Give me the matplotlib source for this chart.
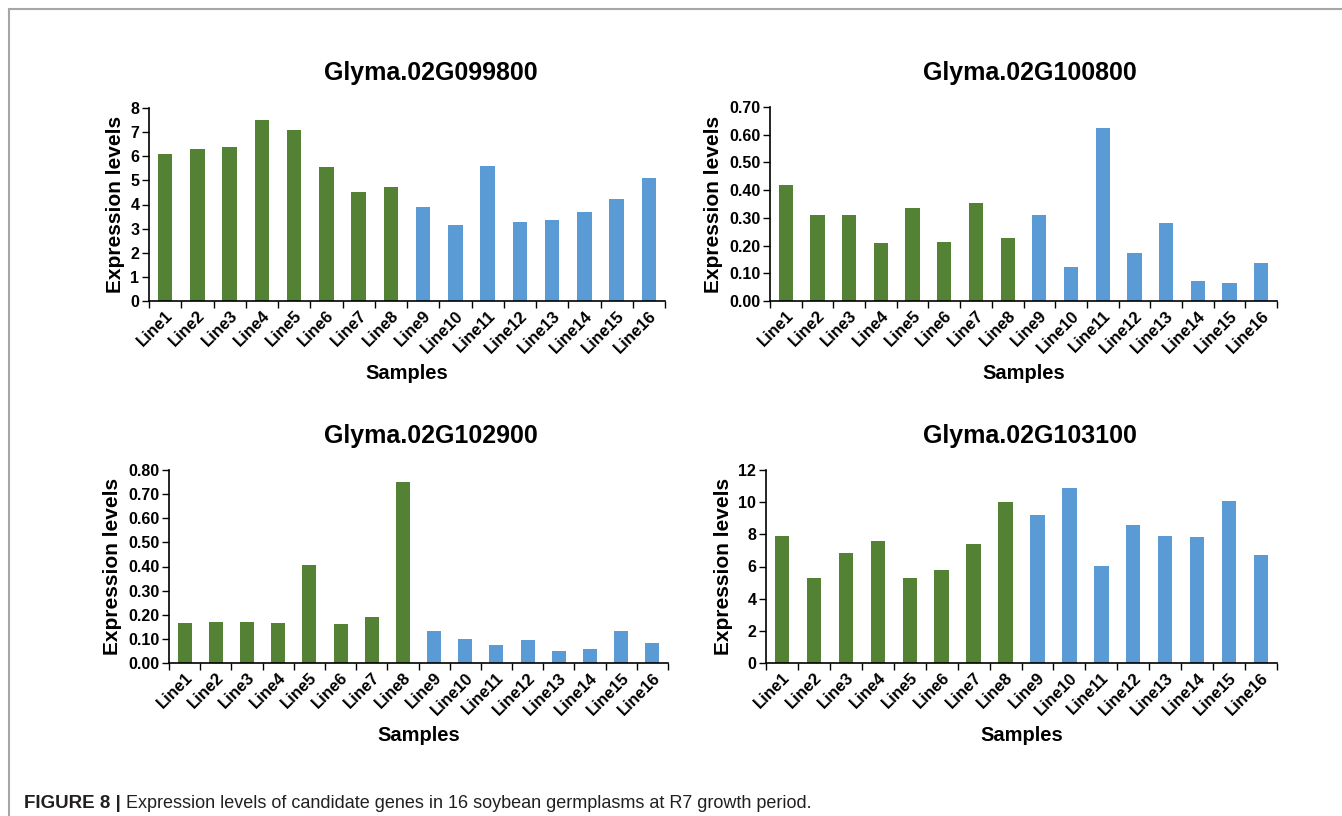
import numpy as np
import matplotlib.pyplot as plt
from matplotlib.lines import Line2D
import matplotlib.transforms as mtransforms

plt.rcParams['font.family'] = ['Liberation Sans', 'DejaVu Sans']

samples = ['Line%d' % i for i in range(1, 17)]

# expression levels per gene, Line1..Line16
g099800 = [6.09, 6.32, 6.38, 7.49, 7.09, 5.56, 4.50, 4.73,
           3.91, 3.14, 5.60, 3.28, 3.35, 3.68, 4.21, 5.08]
g100800 = [0.417, 0.312, 0.312, 0.209, 0.334, 0.214, 0.353, 0.226,
           0.310, 0.124, 0.626, 0.174, 0.282, 0.072, 0.066, 0.136]
g102900 = [0.165, 0.168, 0.172, 0.165, 0.407, 0.161, 0.191, 0.752,
           0.132, 0.098, 0.074, 0.095, 0.048, 0.058, 0.132, 0.081]
g103100 = [7.90, 5.28, 6.85, 7.61, 5.28, 5.77, 7.40, 9.98,
           9.20, 10.85, 6.06, 8.60, 7.90, 7.86, 10.08, 6.72]

genes = ['Glyma.02G099800', 'Glyma.02G100800', 'Glyma.02G102900', 'Glyma.02G103100']
values = [g099800, g100800, g102900, g103100]
yticks = [np.arange(0, 9, 1), np.arange(0, 0.71, 0.1),
          np.arange(0, 0.81, 0.1), np.arange(0, 13, 2)]
yfmt = ['%d', '%.2f', '%.2f', '%d']

green = '#548235'
blue = '#5b9bd5'
colors = [green] * 8 + [blue] * 8

W, H = 1342, 816
fig = plt.figure(figsize=(W / 100, H / 100), dpi=100)

# axes boxes in pixels: left, right, top, bottom
boxes = [(149, 665, 108, 301), (770, 1277, 107, 301),
         (169, 668, 470, 663), (766, 1277, 470, 663)]
title_x = [431, 1030, 431, 1030]
title_y = [73, 73, 436, 436]

for i in range(4):
    l, r, t, b = boxes[i]
    ax = fig.add_axes([l / W, 1 - b / H, (r - l) / W, (b - t) / H])
    x = np.arange(16)
    ax.bar(x, values[i], width=0.45, color=colors, edgecolor='none')
    ax.set_xlim(-0.5, 15.5)
    ax.set_ylim(yticks[i][0], yticks[i][-1])
    ax.set_yticks(yticks[i])
    ax.set_yticklabels([yfmt[i] % v for v in yticks[i]], fontsize=11.5, fontweight='bold')
    ax.set_xticks(np.arange(-0.5, 16, 1))
    ax.set_xticklabels([])
    ax.set_xticks(x, minor=True)
    ax.set_xticklabels(samples, minor=True, rotation=45, ha='right',
                       rotation_mode='anchor', fontsize=12, fontweight='bold')
    offset = mtransforms.ScaledTranslation(9 / 100, 0, fig.dpi_scale_trans)
    for lab in ax.xaxis.get_minorticklabels():
        lab.set_transform(lab.get_transform() + offset)
    ax.tick_params(axis='x', which='major', direction='out', length=5, width=1)
    ax.tick_params(axis='x', which='minor', length=0, pad=5)
    ax.tick_params(axis='y', direction='out', length=5, width=1, pad=2)
    for s in ['top', 'right']:
        ax.spines[s].set_visible(False)
    for s in ['left', 'bottom']:
        ax.spines[s].set_linewidth(1.2)
    ax.set_ylabel('Expression levels', fontsize=15, fontweight='bold', labelpad=4)
    ax.set_xlabel('Samples', fontsize=14.5, fontweight='bold', labelpad=6)
    fig.text(title_x[i] / W, 1 - title_y[i] / H, genes[i], fontsize=18,
             fontweight='bold', ha='center', va='center')

# page frame
fig.add_artist(Line2D([9 / W, 1], [1 - 9 / H, 1 - 9 / H], color='#a6a6a6', lw=1.5))
fig.add_artist(Line2D([9 / W, 9 / W], [1 - 9 / H, 0], color='#a6a6a6', lw=1.5))

t1 = fig.text(24 / W, 1 - 803 / H, 'FIGURE 8 | ', fontsize=13.5, fontweight='bold',
              color='#231f20', va='center')
fig.canvas.draw()
bb = t1.get_window_extent()
fig.text(bb.x1 / W, 1 - 803 / H,
         'Expression levels of candidate genes in 16 soybean germplasms at R7 growth period.',
         fontsize=13, color='#231f20', va='center')

fig.savefig('out.png', dpi=100)
